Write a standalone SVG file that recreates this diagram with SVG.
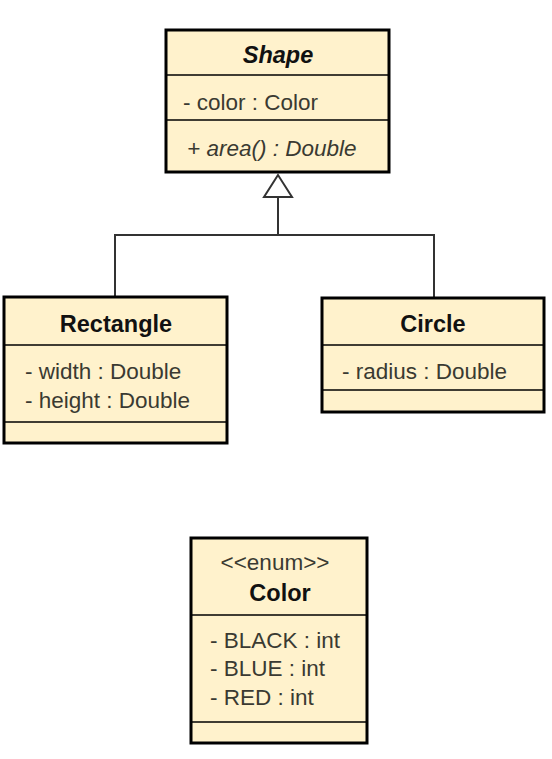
<svg xmlns="http://www.w3.org/2000/svg" width="552" height="759" viewBox="0 0 552 759">
<style>
.box{fill:#fff2cc;stroke:#000;stroke-width:3}
.div{stroke:#000;stroke-width:1.5}
.t{font-family:"Liberation Sans",Arial,sans-serif;font-size:22.5px;fill:#3a3a32}
.b{font-family:"Liberation Sans",Arial,sans-serif;font-size:23.5px;font-weight:bold;fill:#111;text-anchor:middle}
.c{stroke:#333;stroke-width:2;fill:none}
</style>
<rect width="552" height="759" fill="#fff"/>
<g id="connectors">
<polyline class="c" points="115,297 115,235 434,235 434,298"/>
<line class="c" x1="278" y1="235" x2="278" y2="197"/>
<polygon points="278,175 264,197 292,197" fill="#fff" stroke="#333" stroke-width="2"/>
</g>
<g id="Shape">
<rect class="box" x="166" y="30" width="223" height="142"/>
<line class="div" x1="166" y1="75" x2="389" y2="75"/>
<line class="div" x1="166" y1="120" x2="389" y2="120"/>
<text class="b" x="278" y="63" font-style="italic">Shape</text>
<text class="t" x="183" y="110">- color : Color</text>
<text class="t" x="187" y="156" font-style="italic">+ area() : Double</text>
</g>
<g id="Rectangle">
<rect class="box" x="4" y="297" width="223" height="146"/>
<line class="div" x1="4" y1="345" x2="227" y2="345"/>
<line class="div" x1="4" y1="422" x2="227" y2="422"/>
<text class="b" x="116" y="332">Rectangle</text>
<text class="t" x="25" y="379">- width : Double</text>
<text class="t" x="25" y="408">- height : Double</text>
</g>
<g id="Circle">
<rect class="box" x="322" y="298" width="222" height="114"/>
<line class="div" x1="322" y1="345" x2="544" y2="345"/>
<line class="div" x1="322" y1="390" x2="544" y2="390"/>
<text class="b" x="433" y="332">Circle</text>
<text class="t" x="342" y="379">- radius : Double</text>
</g>
<g id="Color">
<rect class="box" x="191" y="538" width="176" height="205"/>
<line class="div" x1="191" y1="615" x2="367" y2="615"/>
<line class="div" x1="191" y1="722" x2="367" y2="722"/>
<text class="t" x="275" y="570" text-anchor="middle" font-size="20">&lt;&lt;enum&gt;&gt;</text>
<text class="b" x="280" y="601">Color</text>
<text class="t" x="210" y="648">- BLACK : int</text>
<text class="t" x="210" y="676">- BLUE : int</text>
<text class="t" x="210" y="705">- RED : int</text>
</g>
</svg>
